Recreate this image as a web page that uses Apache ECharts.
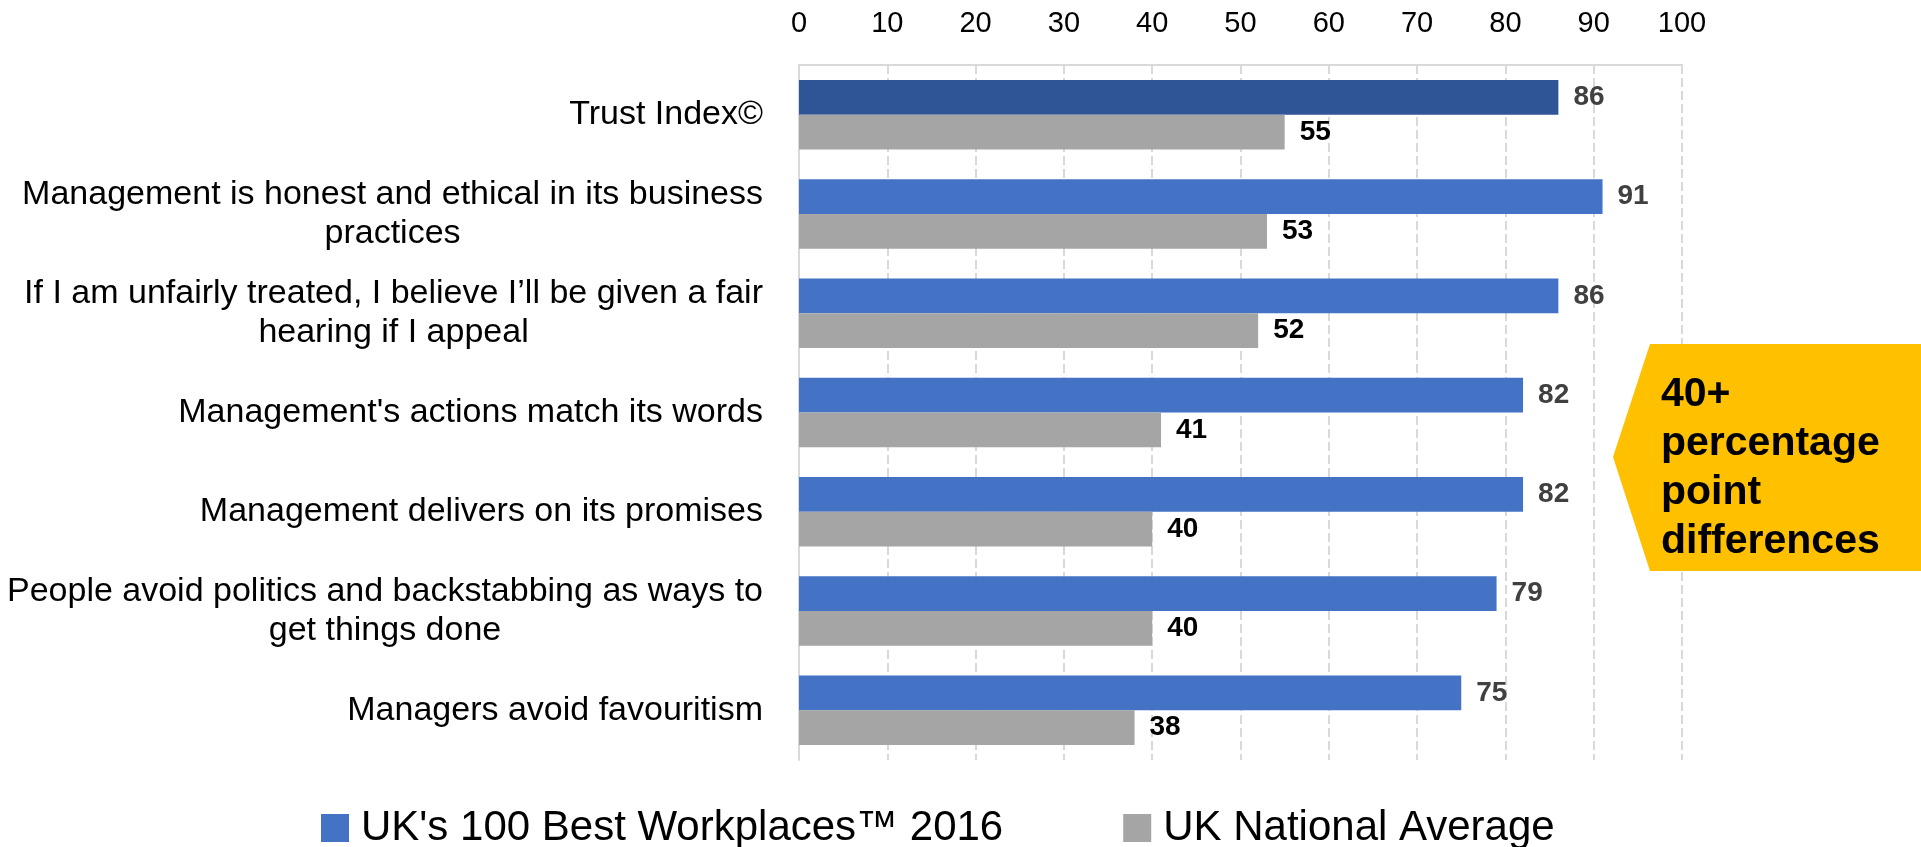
<!DOCTYPE html>
<html>
<head>
<meta charset="utf-8">
<title>UK's 100 Best Workplaces 2016 – Trust</title>
<script src="https://cdn.jsdelivr.net/npm/echarts@6/dist/echarts.min.js"></script>
<style>
  html, body { margin: 0; padding: 0; background: #ffffff; }
  #chart { width: 1921px; height: 847px; }
</style>
</head>
<body>
<div id="chart"></div>
<script>
// Survey statements (top to bottom)
const categories = [
  'Trust Index©',
  'Management is honest and ethical in its business\npractices',
  'If I am unfairly treated, I believe I’ll be given a fair\nhearing if I appeal',
  "Management's actions match its words",
  'Management delivers on its promises',
  'People avoid politics and backstabbing as ways to\nget things done',
  'Managers avoid favouritism'
];

// Percentage scores for each statement
const bestWorkplaces = [86, 91, 86, 82, 82, 79, 75];
const nationalAverage = [55, 53, 52, 41, 40, 40, 38];

const seriesNames = ["UK's 100 Best Workplaces™ 2016", 'UK National Average'];
const axisTicks = [0, 100, 10]; // min, max, step
const calloutLines = ['40+', 'percentage', 'point', 'differences'];

const FONT = '"Liberation Sans", Arial, sans-serif';
const BLUE = '#4472C4';
const BLUE_DARK = '#2F5597';
const GREY = '#A5A5A5';
const LINE = '#D9D9D9';

const chart = echarts.init(document.getElementById('chart'), null, { renderer: 'canvas' });

chart.setOption({
  animation: false,
  backgroundColor: '#ffffff',
  textStyle: { fontFamily: FONT },
  grid: { left: 799, right: 239, top: 65, bottom: 87, containLabel: false },
  legend: {
    left: 316,
    top: 802,
    icon: 'rect',
    itemWidth: 28,
    itemHeight: 28,
    itemGap: 120,
    textStyle: { fontSize: 42, color: '#000', fontFamily: FONT, padding: [0, 0, 0, 7] },
    data: seriesNames
  },
  xAxis: {
    type: 'value',
    position: 'top',
    min: axisTicks[0],
    max: axisTicks[1],
    interval: axisTicks[2],
    axisLine: { show: true, lineStyle: { color: LINE, width: 2 } },
    axisTick: { show: false },
    axisLabel: { fontSize: 29, color: '#000', margin: 27, fontFamily: FONT },
    splitLine: { show: true, lineStyle: { color: LINE, width: 2, type: [9, 4] } }
  },
  yAxis: {
    type: 'category',
    inverse: true,
    data: categories,
    axisLine: { show: true, lineStyle: { color: LINE, width: 2 } },
    axisTick: { show: false },
    axisLabel: {
      margin: 36,
      fontFamily: FONT,
      formatter: v => v.split('\n').map(s => '{c|' + s + '}').join('\n'),
      rich: { c: { fontSize: 34, lineHeight: 39, color: '#000', align: 'center', fontFamily: FONT } }
    }
  },
  series: [
    {
      name: seriesNames[0],
      type: 'bar',
      data: bestWorkplaces.map((v, i) => i === 0 ? { value: v, itemStyle: { color: BLUE_DARK } } : v),
      itemStyle: { color: BLUE },
      barGap: '0%',
      barCategoryGap: '30%',
      label: {
        show: true, position: 'right', distance: 15,
        fontSize: 28, fontWeight: 'bold', color: '#404040', fontFamily: FONT
      }
    },
    {
      name: seriesNames[1],
      type: 'bar',
      data: nationalAverage,
      itemStyle: { color: GREY },
      barGap: '0%',
      barCategoryGap: '30%',
      label: {
        show: true, position: 'right', distance: 15,
        fontSize: 28, fontWeight: 'bold', color: '#000', fontFamily: FONT
      }
    }
  ],
  graphic: [
    {
      type: 'polygon',
      z: 10,
      shape: { points: [[1613, 457], [1650, 344], [1921, 344], [1921, 571], [1650, 571]] },
      style: { fill: '#FFC000' }
    },
    {
      type: 'text',
      z: 11,
      left: 1661,
      top: 370,
      style: {
        text: calloutLines.join('\n'),
        font: 'bold 41px ' + FONT,
        lineHeight: 49,
        fill: '#000'
      }
    }
  ]
});
</script>
</body>
</html>
